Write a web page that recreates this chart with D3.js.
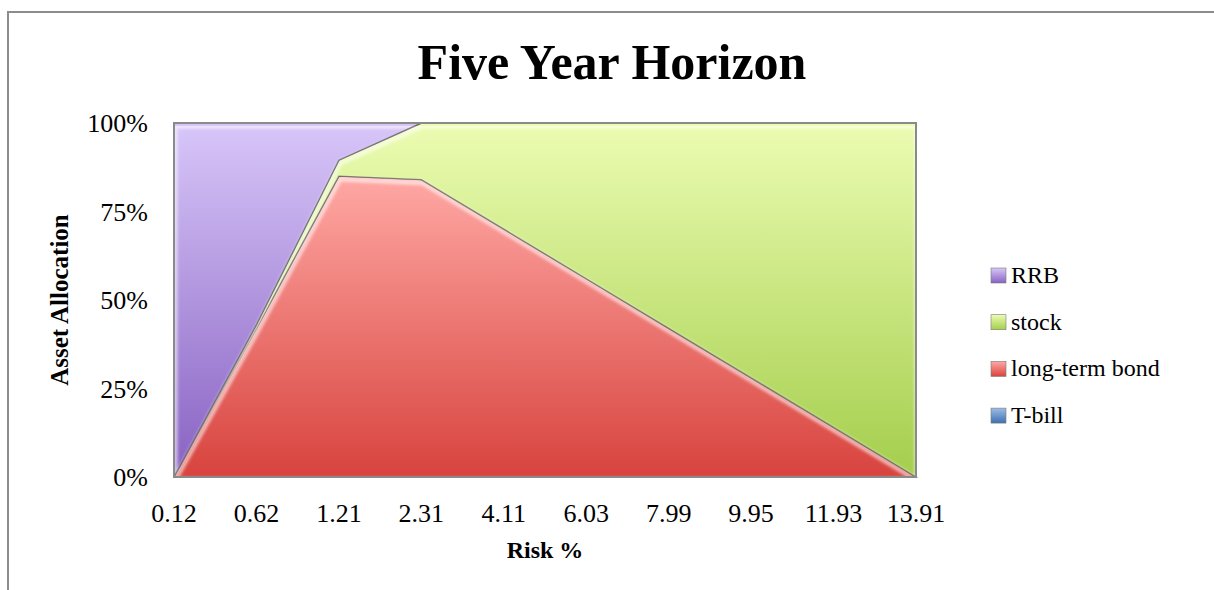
<!DOCTYPE html>
<html>
<head>
<meta charset="utf-8">
<script src="https://cdn.jsdelivr.net/npm/d3@7"></script>
<style>
  body { margin: 0; background: #fff; }
  text { font-family: "Liberation Serif", "DejaVu Serif", serif; fill: #000; }
</style>
</head>
<body>
<div id="chart"></div>
<script>
const width = 1214
const height = 590

// data (percent of allocation)
const categories = ["0.12", "0.62", "1.21", "2.31", "4.11", "6.03", "7.99", "9.95", "11.93", "13.91"]
const tbill = [0, 0, 0, 0, 0, 0, 0, 0, 0, 0]
const bond = [0, 42, 85, 84, 70, 56, 42, 28, 14, 0]
const stock = [0, 1, 4.5, 16, 30, 44, 58, 72, 86, 100]
const rrb = [100, 57, 10.5, 0, 0, 0, 0, 0, 0, 0]
const yTicks = [0, 25, 50, 75, 100]

const keys = ["T-bill", "long-term bond", "stock", "RRB"]
const series = { "T-bill": tbill, "long-term bond": bond, "stock": stock, "RRB": rrb }
const rows = categories.map((c, i) => {
  const r = { risk: c }
  keys.forEach(k => r[k] = series[k][i])
  return r
})

const colors = {
  "RRB": ["#d8c6f9", "#8862c2"],
  "stock": ["#ecfcb2", "#a4ce4c"],
  "long-term bond": ["#ffa8a4", "#d8433e"],
  "T-bill": ["#9dbde6", "#3f70b0"]
}

const plot = { left: 174, right: 916, top: 123, bottom: 477 }

const x = d3.scalePoint(categories, [plot.left, plot.right])
const y = d3.scaleLinear([0, 100], [plot.bottom, plot.top])

const svg = d3.select("#chart").append("svg")
    .attr("width", width)
    .attr("height", height)

const defs = svg.append("defs")
keys.forEach((k, i) => {
  const g = defs.append("linearGradient")
      .attr("id", "grad" + i)
      .attr("x1", 0).attr("y1", 0).attr("x2", 0).attr("y2", 1)
  g.append("stop").attr("offset", "0%").attr("stop-color", colors[k][0])
  g.append("stop").attr("offset", "100%").attr("stop-color", colors[k][1])
})
defs.append("filter").attr("id", "soft")
  .append("feGaussianBlur").attr("stdDeviation", 1.6)

// outer chart frame
svg.append("rect")
    .attr("x", 8).attr("y", 12)
    .attr("width", 1400).attr("height", 800)
    .attr("fill", "none")
    .attr("stroke", "#8c8c8c")
    .attr("stroke-width", 2)

svg.append("text")
    .attr("x", 612).attr("y", 79)
    .attr("text-anchor", "middle")
    .style("font-size", "50px")
    .style("font-weight", "bold")
    .text("Five Year Horizon")

const stacked = d3.stack().keys(keys)(rows)

const area = d3.area()
    .x(d => x(d.data.risk))
    .y0(d => y(d[0]))
    .y1(d => y(d[1]))

const layers = svg.append("g")
stacked.forEach((s, i) => {
  const clipId = "clip" + i
  defs.append("clipPath").attr("id", clipId)
    .append("path").attr("d", area(s))
  const g = layers.append("g")
  g.append("path")
      .attr("d", area(s))
      .attr("fill", `url(#grad${i})`)
  // bevel highlight on the upper edge
  g.append("path")
      .attr("clip-path", `url(#${clipId})`)
      .attr("d", area(s))
      .attr("transform", "translate(1,3)")
      .attr("fill", "none")
      .attr("stroke", "#fff")
      .attr("stroke-opacity", 0.6)
      .attr("stroke-width", 5)
      .attr("filter", "url(#soft)")
  g.append("path")
      .attr("d", area(s))
      .attr("fill", "none")
      .attr("stroke", "#4a4a4a")
      .attr("stroke-opacity", 0.6)
      .attr("stroke-width", 1.4)
})

// plot area border
svg.append("rect")
    .attr("x", plot.left).attr("y", plot.top)
    .attr("width", plot.right - plot.left)
    .attr("height", plot.bottom - plot.top)
    .attr("fill", "none")
    .attr("stroke", "#8a8a8a")
    .attr("stroke-width", 2)

svg.append("g")
    .selectAll("text")
    .data(yTicks)
    .join("text")
    .attr("x", 148)
    .attr("y", d => y(d))
    .attr("dy", "0.35em")
    .attr("text-anchor", "end")
    .style("font-size", "26px")
    .text(d => d + "%")

svg.append("g")
    .selectAll("text")
    .data(categories)
    .join("text")
    .attr("x", d => x(d))
    .attr("y", 522)
    .attr("text-anchor", "middle")
    .style("font-size", "26px")
    .text(d => d)

svg.append("text")
    .attr("x", (plot.left + plot.right) / 2)
    .attr("y", 558)
    .attr("text-anchor", "middle")
    .style("font-size", "24px")
    .style("font-weight", "bold")
    .text("Risk %")

svg.append("text")
    .attr("transform", "translate(68,300) rotate(-90)")
    .attr("text-anchor", "middle")
    .style("font-size", "25px")
    .style("font-weight", "bold")
    .text("Asset Allocation")

const legendKeys = keys.slice().reverse()
const legend = svg.append("g")
    .selectAll("g")
    .data(legendKeys)
    .join("g")
    .attr("transform", (d, i) => `translate(991,${268 + i * 46.7})`)

legend.append("rect")
    .attr("width", 15).attr("height", 15)
    .attr("fill", d => `url(#grad${keys.indexOf(d)})`)
    .attr("stroke", "#7a7a7a")
    .attr("stroke-width", 0.6)

legend.append("text")
    .attr("x", 20)
    .attr("y", 15)
    .style("font-size", "24px")
    .text(d => d)
</script>
</body>
</html>
